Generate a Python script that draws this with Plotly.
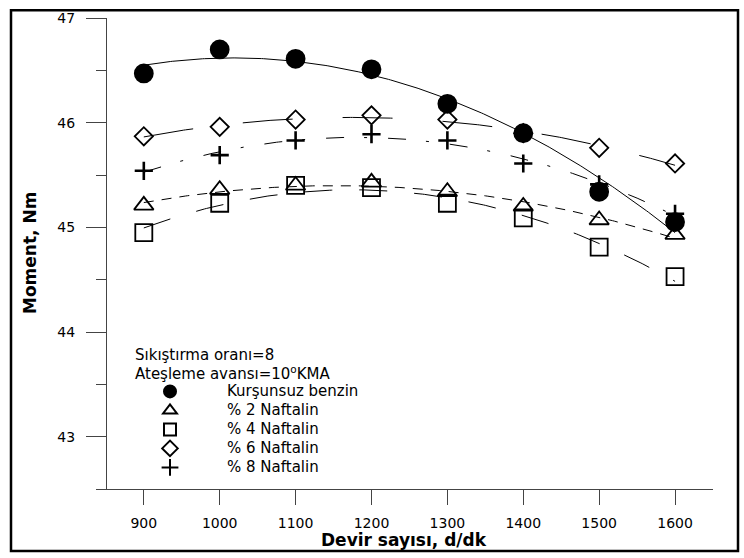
import numpy as np
import plotly.graph_objects as go

# Engine speed (d/dk) and measured torque (Nm) for each fuel blend
rpm = [900, 1000, 1100, 1200, 1300, 1400, 1500, 1600]

moment_kursunsuz = [46.47, 46.70, 46.61, 46.51, 46.18, 45.90, 45.34, 45.05]
moment_naftalin_2 = [45.21, 45.36, 45.40, 45.43, 45.34, 45.20, 45.07, 44.93]
moment_naftalin_4 = [44.95, 45.23, 45.40, 45.38, 45.23, 45.09, 44.81, 44.53]
moment_naftalin_6 = [45.87, 45.96, 46.03, 46.07, 46.03, 45.90, 45.76, 45.61]
moment_naftalin_8 = [45.54, 45.69, 45.83, 45.89, 45.83, 45.61, 45.41, 45.13]

series_names = ["Kurşunsuz benzin", "% 2 Naftalin", "% 4 Naftalin",
                "% 6 Naftalin", "% 8 Naftalin"]
series_values = [moment_kursunsuz, moment_naftalin_2, moment_naftalin_4,
                 moment_naftalin_6, moment_naftalin_8]

x_ticks = [900, 1000, 1100, 1200, 1300, 1400, 1500, 1600]
y_ticks = [43, 44, 45, 46, 47]

header_lines = ["Sıkıştırma oranı=8", "Ateşleme avansı=10<sup>o</sup>KMA"]

# marker symbol, marker size, dash pattern of the fitted curve
styles = {
    "Kurşunsuz benzin": ("circle", 18, "solid"),
    "% 2 Naftalin": ("triangle-up-open", 17, "10px,8px"),
    "% 4 Naftalin": ("square-open", 17, "28px,27px"),
    "% 6 Naftalin": ("diamond-open", 14, "50px,50px"),
    "% 8 Naftalin": ("cross-thin-open", 13, "18px,20px,3px,21px"),
}
draw_order = ["% 4 Naftalin", "% 2 Naftalin", "% 6 Naftalin",
              "% 8 Naftalin", "Kurşunsuz benzin"]

FONT = "DejaVu Sans"
TEXT_SIZE = 15
W, H = 744, 558
M_L, M_R, M_T, M_B = 96, 31, 10, 69
PW, PH = W - M_L - M_R, H - M_T - M_B


def px_x(p):
    return (p - M_L) / PW


def px_y(p):
    return (H - M_B - p) / PH


fig = go.Figure()

# second-order fitted trend curves
for name, vals in zip(series_names, series_values):
    coeffs = np.polyfit(rpm, vals, 2)
    xs = np.linspace(min(rpm), max(rpm), 281)
    fig.add_trace(go.Scatter(
        x=xs, y=np.polyval(coeffs, xs), mode="lines",
        line=dict(color="black", width=1, dash=styles[name][2]),
        showlegend=False, hoverinfo="skip",
    ))

# measured points
for name in draw_order:
    vals = series_values[series_names.index(name)]
    symbol, size, _ = styles[name]
    line_w = 2.6 if symbol.startswith("cross") else 1.8
    fig.add_trace(go.Scatter(
        x=rpm, y=vals, mode="markers",
        name=f"<span style='font-size:{TEXT_SIZE}px'>{name}</span>",
        legendrank=series_names.index(name) + 1,
        marker=dict(symbol=symbol, size=size, color="black",
                    line=dict(color="black", width=line_w)),
    ))

annotations = [
    dict(text=header_lines[0], x=px_x(133), y=px_y(353), xref="paper", yref="paper",
         xanchor="left", yanchor="middle", showarrow=False,
         font=dict(family=FONT, size=TEXT_SIZE, color="black")),
    dict(text=header_lines[1], x=px_x(133), y=px_y(371), xref="paper", yref="paper",
         xanchor="left", yanchor="middle", showarrow=False,
         font=dict(family=FONT, size=TEXT_SIZE, color="black")),
    dict(text="<b>Devir sayısı, d/dk</b>", x=px_x(404), y=px_y(541),
         xref="paper", yref="paper", xanchor="center", yanchor="middle",
         showarrow=False, font=dict(family=FONT, size=17, color="black")),
    dict(text="<b>Moment, Nm</b>", x=px_x(30), y=px_y(249), textangle=-90,
         xref="paper", yref="paper", xanchor="center", yanchor="middle",
         showarrow=False, font=dict(family=FONT, size=17, color="black")),
]

fig.update_layout(
    width=W, height=H,
    margin=dict(l=M_L, r=M_R, t=M_T, b=M_B),
    paper_bgcolor="white", plot_bgcolor="white",
    font=dict(family=FONT, color="black"),
    annotations=annotations,
    shapes=[dict(type="rect", xref="paper", yref="paper",
                 x0=px_x(11), x1=px_x(738), y0=px_y(552), y1=px_y(2),
                 line=dict(color="black", width=2.5))],
    legend=dict(x=px_x(113), y=px_y(375), xanchor="left", yanchor="top",
                bgcolor="rgba(0,0,0,0)", borderwidth=0,
                itemwidth=104, itemsizing="constant",
                font=dict(family=FONT, size=12, color="black"),
                traceorder="normal"),
    xaxis=dict(range=[837, 1650], tickvals=x_ticks, ticks="outside", ticklen=15,
               tickcolor="#444", showline=True, linecolor="#444", linewidth=1,
               showgrid=False, zeroline=False, ticklabelstandoff=6,
               tickfont=dict(family=FONT, size=14, color="black")),
    yaxis=dict(range=[42.5, 47], tickvals=y_ticks, ticks="outside", ticklen=20,
               tickcolor="#444", showline=True, linecolor="#444", linewidth=1,
               showgrid=False, zeroline=False, anchor="free", position=px_x(106),
               ticklabelstandoff=8,
               minor=dict(dtick=0.5, ticks="outside", ticklen=10, tickcolor="#444"),
               tickfont=dict(family=FONT, size=14, color="black")),
)

fig.write_html("out.html")
